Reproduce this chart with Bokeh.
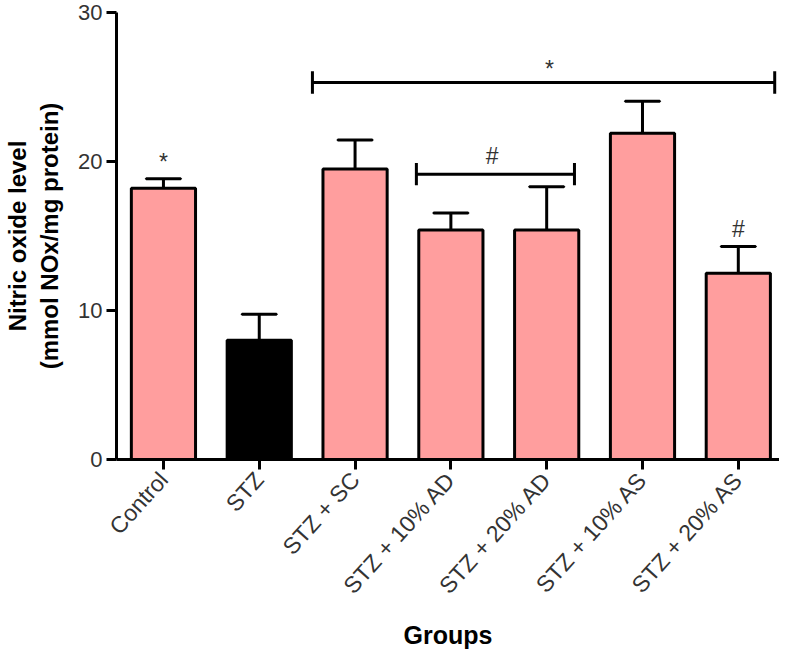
import math
from bokeh.plotting import figure
from bokeh.models import ColumnDataSource, FixedTicker, Range1d
from bokeh.embed import file_html
from bokeh.resources import INLINE
from bokeh.core.properties import value

# ---- data ----
groups = ["Control", "STZ", "STZ + SC", "STZ + 10% AD", "STZ + 20% AD", "STZ + 10% AS", "STZ + 20% AS"]
means = [18.2, 8.0, 19.5, 15.4, 15.4, 21.9, 12.5]
err_top = [18.85, 9.75, 21.45, 16.55, 18.3, 24.05, 14.3]
colors = ["#FF9E9E", "#000000", "#FF9E9E", "#FF9E9E", "#FF9E9E", "#FF9E9E", "#FF9E9E"]
y_ticks = [0, 10, 20, 30]

# significance brackets: (x start, x end, y)
br_x0 = [1.555, 2.64]
br_x1 = [6.38, 4.29]
br_y = [25.3, 19.15]
# significance marks: (x, y, symbol)
mark_x = [0.0, 4.03, 3.43, 6.0]
mark_y = [20.0, 26.2, 20.4, 15.5]
mark_t = ["*", "*", "#", "#"]

FONT = "Liberation Sans"
xs = list(range(len(groups)))

p = figure(width=779, height=653, output_backend="svg", toolbar_location=None,
           x_range=Range1d(-0.49, 6.43), y_range=Range1d(0, 30),
           min_border_left=116, min_border_right=0, min_border_top=12, min_border_bottom=194)
p.outline_line_color = None
p.xgrid.visible = False
p.ygrid.visible = False
p.background_fill_color = "white"

src = ColumnDataSource(dict(x=xs, top=means, et=err_top, color=colors))
# error bars (upper only)
p.segment(x0="x", y0="top", x1="x", y1="et", source=src, line_color="black", line_width=3)
p.rect(x="x", y="et", width=0.36, height=0.0001, source=src, line_color="black", line_width=3, fill_color=None)
p.vbar(x="x", top="top", bottom=0, width=0.67, source=src, fill_color="color",
       line_color="black", line_width=3)

# brackets
p.segment(x0=br_x0, y0=br_y, x1=br_x1, y1=br_y, line_color="black", line_width=3)
ends_x = br_x0 + br_x1
ends_y = br_y + br_y
p.segment(x0=ends_x, y0=[v - 0.75 for v in ends_y], x1=ends_x, y1=[v + 0.75 for v in ends_y],
          line_color="black", line_width=3)
p.text(x=mark_x, y=mark_y, text=mark_t, text_align="center", text_baseline="middle",
       text_font=value(FONT), text_font_size="23px", text_color="#333333")

# axes
p.yaxis.ticker = FixedTicker(ticks=y_ticks)
p.xaxis.ticker = FixedTicker(ticks=xs)
p.xaxis.major_label_overrides = {i: g for i, g in enumerate(groups)}
p.xaxis.major_label_orientation = math.radians(48)
for ax in (p.xaxis, p.yaxis):
    ax.axis_line_width = 3
    ax.major_tick_line_width = 3
    ax.major_tick_out = 10
    ax.major_tick_in = 0
    ax.minor_tick_line_color = None
    ax.major_label_text_font = FONT
    ax.major_label_text_font_size = "23px"
    ax.major_label_text_color = "#333333"
    ax.axis_label_text_font = FONT
    ax.axis_label_text_font_style = "bold"
    ax.axis_label_text_color = "black"
p.yaxis.major_label_text_font_size = "22px"
p.yaxis.axis_label = "Nitric oxide level\n(mmol NOx/mg protein)"
p.yaxis.axis_label_text_font_size = "24px"
p.yaxis.major_label_standoff = 4
p.yaxis.axis_label_standoff = 12
p.xaxis.axis_label = "Groups"
p.xaxis.axis_label_text_font_size = "25px"
p.xaxis.major_label_standoff = 6
p.xaxis.axis_label_standoff = 11

open("out.html", "w").write(file_html(p, INLINE))
